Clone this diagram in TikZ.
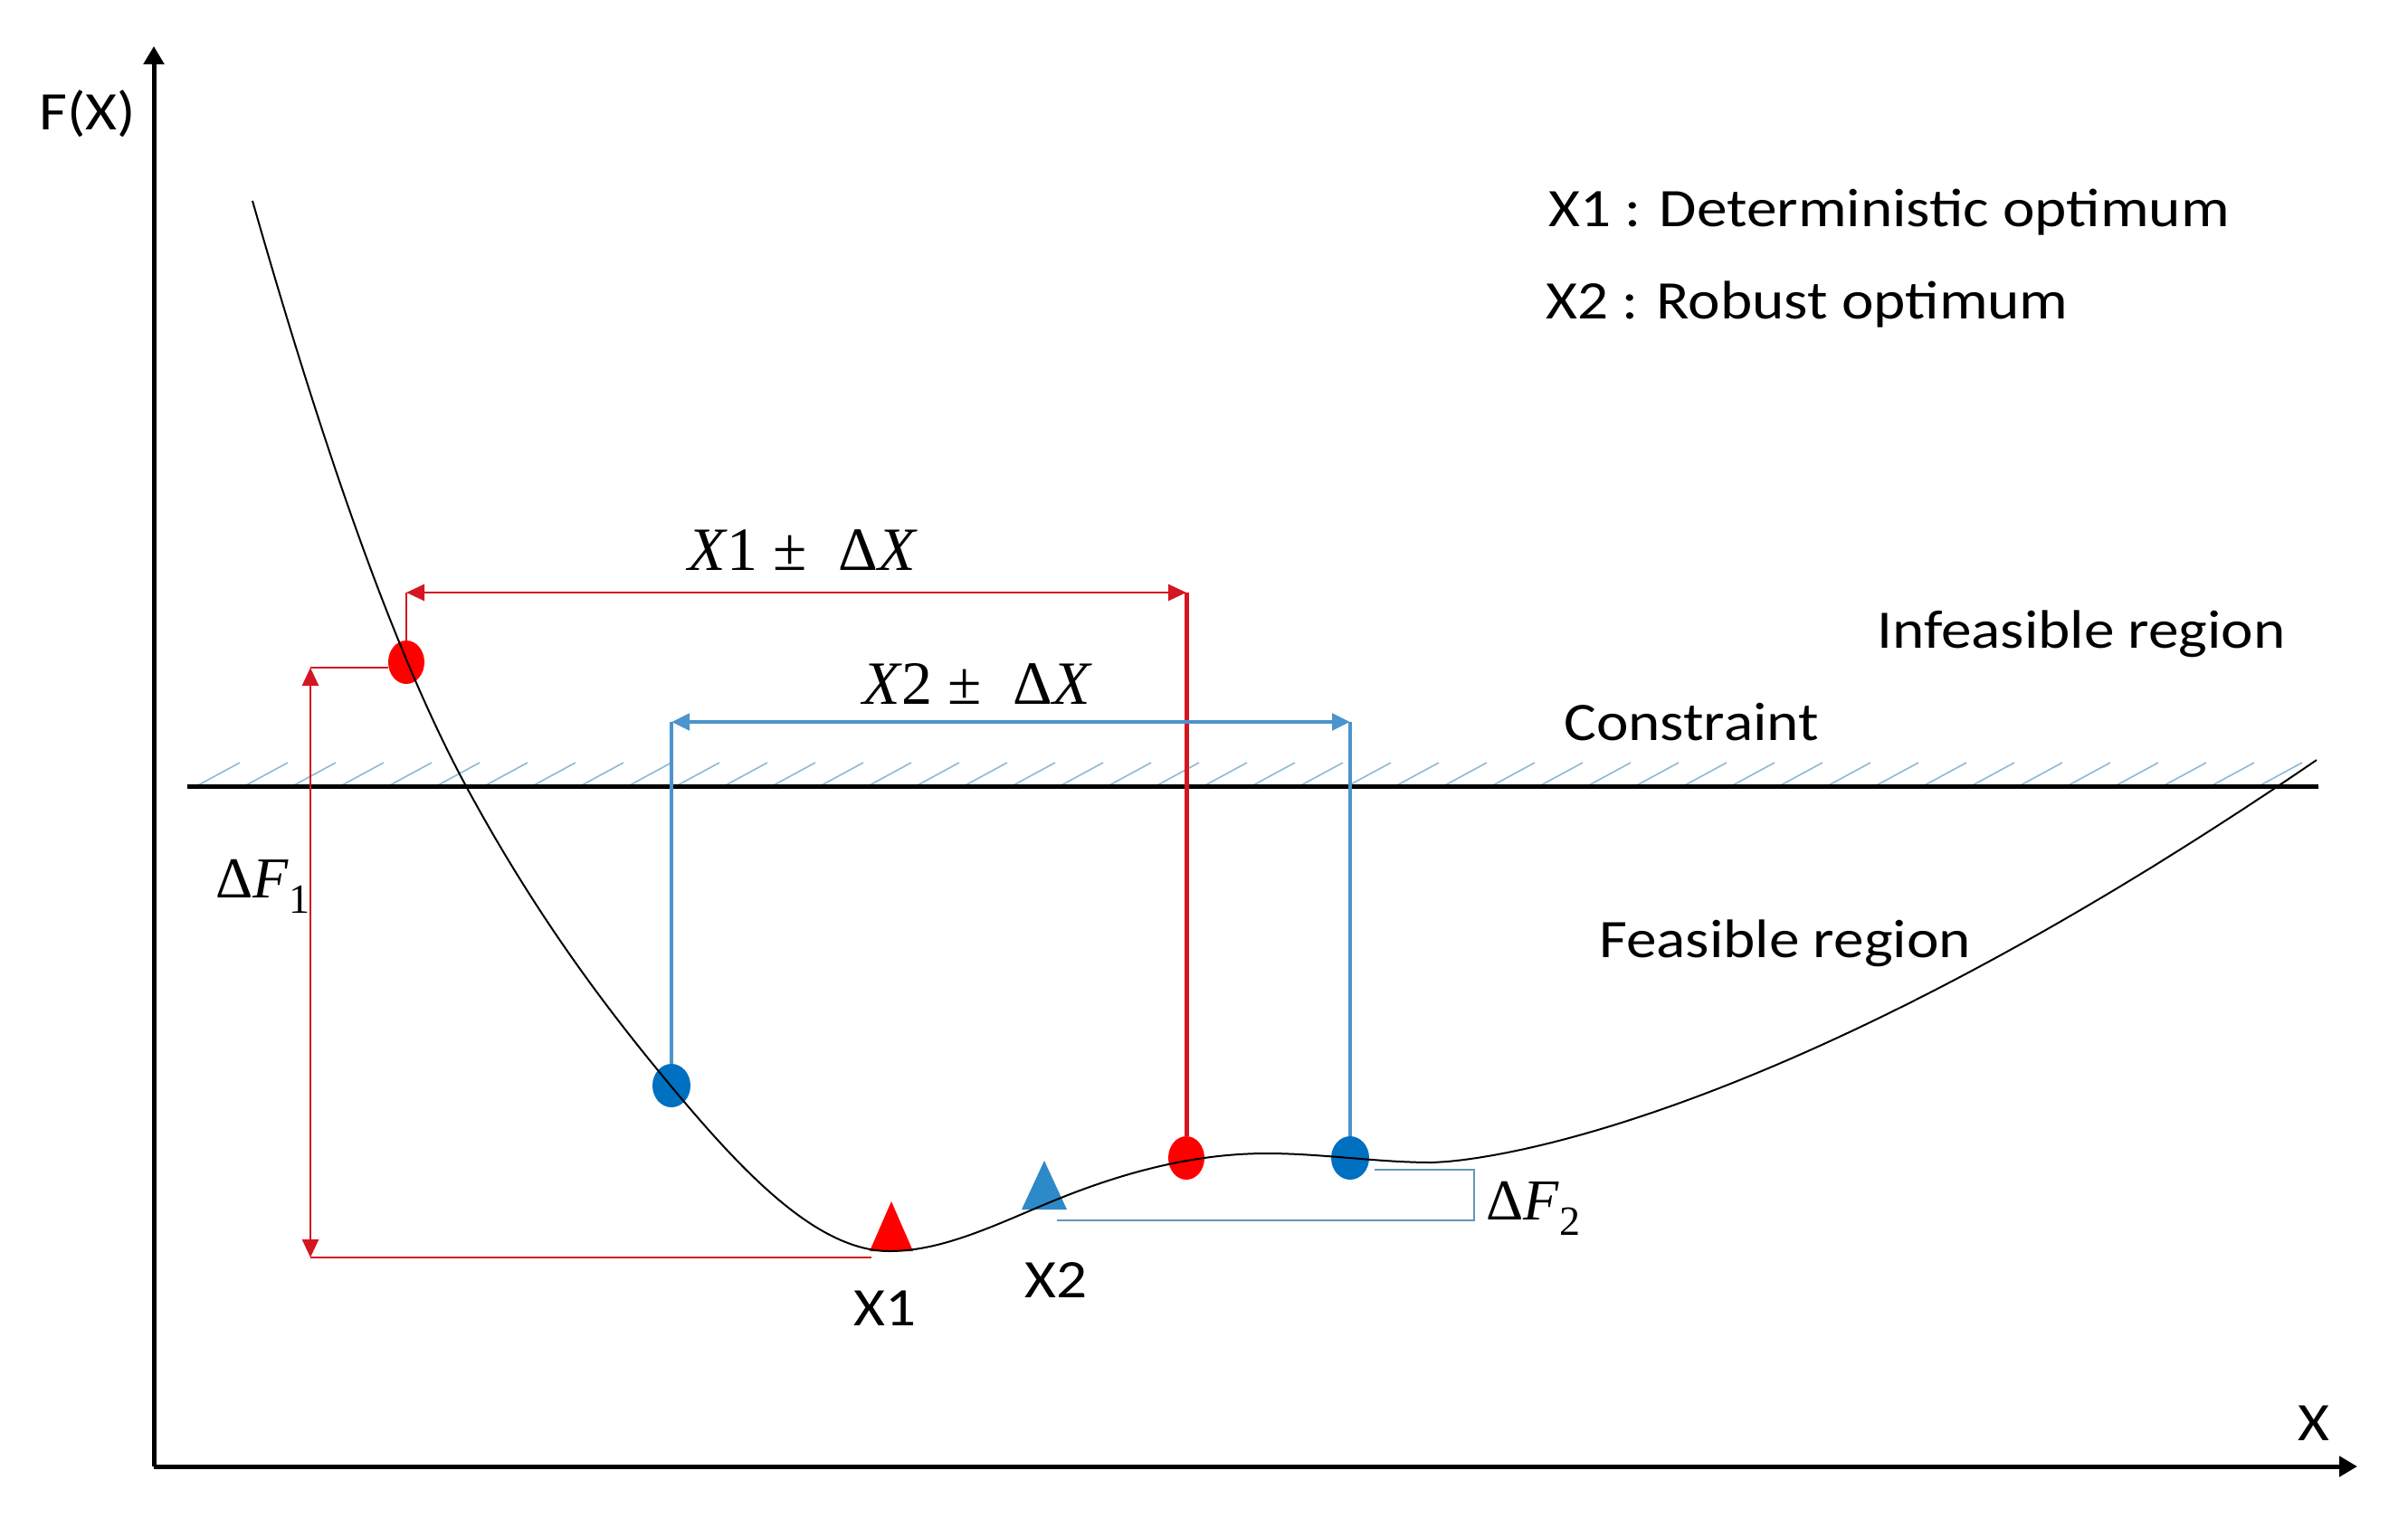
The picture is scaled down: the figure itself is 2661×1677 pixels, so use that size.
\documentclass[tikz,border=0pt]{standalone}
\usepackage[no-math]{fontspec}
\setmainfont{Carlito}
\newfontfamily\mf{Liberation Serif}
\usepackage{graphicx}
\usetikzlibrary{arrows.meta,shapes.geometric}
\definecolor{dotred}{RGB}{255,0,0}
\definecolor{linered}{RGB}{212,22,32}
\definecolor{dotblue}{RGB}{0,112,192}
\definecolor{triblue}{RGB}{46,137,200}
\definecolor{lineblue}{RGB}{75,148,205}
\definecolor{brblue}{RGB}{100,150,180}
\definecolor{hatchc}{RGB}{140,185,212}
\newcommand{\hs}[1]{\scalebox{1.12}[1]{#1}}
\newcommand{\sbx}[1]{\raisebox{-0.28em}{\fontsize{23}{27}\selectfont #1}}
\begin{document}
\begin{tikzpicture}[x=0.5pt,y=-0.5pt,
  axis/.style={line width=2.5pt,-{Triangle[width=11pt,length=10pt]}},
  curveline/.style={line width=1pt,black},
  hatchline/.style={line width=0.8pt,hatchc},
  conline/.style={line width=2.5pt,black},
  redthin/.style={line width=1.3pt,linered},
  redthick/.style={line width=2.5pt,linered},
  bluethick/.style={line width=2.4pt,lineblue},
  bracket/.style={line width=1pt,brblue},
  dimarrow/.style={{Triangle[width=9pt,length=10pt]}-{Triangle[width=9pt,length=10pt]}},
  reddot/.style={ellipse,fill=dotred,minimum width=20pt,minimum height=24pt,inner sep=0pt},
  bluedot/.style={ellipse,fill=dotblue,minimum width=21pt,minimum height=24pt,inner sep=0pt},
  lbl/.style={inner sep=0pt,font=\fontsize{30}{36}\selectfont},
  mlbl/.style={inner sep=0pt,font=\mf\fontsize{34}{40}\selectfont},
  dlbl/.style={inner sep=0pt,font=\mf\fontsize{32}{38}\selectfont}
]
\useasboundingbox (0,0) rectangle (2661,1677);

% hatching above the constraint
\foreach \x in {217,270,...,2545} \draw[hatchline] (\x,869) -- ++(48,-26);
% constraint line
\coordinate (c0) at (207,869);
\coordinate (c1) at (2562,869);
\draw[conline] (c0) -- (c1);

% markers
\node[reddot] (r1) at (449,732) {};
\node[bluedot] (b1) at (742,1200) {};
\node[reddot] (r2) at (1311,1280) {};
\node[bluedot] (b2) at (1492,1280) {};
\coordinate (t1) at (985,1328);
\coordinate (t2) at (1154,1283);
\fill[dotred] (t1) -- ++(-24,55) -- ++(48,0) -- cycle;
\fill[triblue] (t2) -- ++(-25,54) -- ++(50,0) -- cycle;

% X1 +- DX
\coordinate (a1) at (449,655);
\coordinate (a2) at (1311,655);
\draw[redthin] (r1.north) -- (a1);
\draw[redthick] (r2.north) -- (a2);
\draw[redthin,dimarrow] (a1) -- (a2);

% X2 +- DX
\coordinate (e1) at (742,798);
\coordinate (e2) at (1492,798);
\draw[bluethick] (b1.north) -- (e1);
\draw[bluethick] (b2.north) -- (e2);
\draw[bluethick,dimarrow] (e1) -- (e2);

% Delta F1
\coordinate (d1t) at (343,738);
\coordinate (d1b) at (343,1390);
\coordinate (d1e) at (963,1390);
\draw[redthin] (d1t) -- (d1t -| r1.west);
\draw[redthin] (d1b) -- (d1e);
\draw[redthin,dimarrow] (d1t) -- (d1b);

% Delta F2 bracket
\coordinate (f2a) at (1519,1293);
\coordinate (f2b) at (1629,1293);
\coordinate (f2c) at (1629,1349);
\coordinate (f2d) at (1168,1349);
\draw[bracket] (f2a) -- (f2b) -- (f2c) -- (f2d);

% curve
\draw[curveline] (279,222) .. controls (358,498.5) and (436,723) .. (515,869)
  .. controls (590,1007.75) and (666,1110) .. (741,1200)
  .. controls (821,1296) and (903,1383) .. (983,1383)
  .. controls (1045,1383) and (1108,1350) .. (1170,1325)
  .. controls (1247,1294) and (1323,1275) .. (1400,1275)
  .. controls (1461,1275) and (1522,1285) .. (1583,1285)
  -- plot[domain=0:977,samples=60,variable=\u] ({1583+\u},{1285-14.57*pow(\u/100,1.5)});

% axes
\coordinate (o) at (170,1621);
\coordinate (ytop) at (170,51);
\coordinate (xend) at (2605,1621);
\draw[axis] (o) -- (ytop);
\draw[axis] (o) -- (xend);

% labels
\node[lbl,anchor=base] (fx) at (97,143) {\hs{F(X)}};
\node[lbl,anchor=base] (xl) at (2557,1592) {\hs{X}};
\node[lbl,anchor=base west] (leg1) at (1711,250) {\hs{X1 : Deterministic optimum}};
\node[lbl,anchor=base west] (leg2) at (1708,352) {\hs{X2 : Robust optimum}};
\node[lbl,anchor=base west] (inf) at (2074,716) {\hs{Infeasible region}};
\node[lbl,anchor=base west] (con) at (1728,818) {\hs{Constraint}};
\node[lbl,anchor=base west] (fea) at (1767,1058) {\hs{Feasible region}};
\node[lbl,anchor=base] (x1l) at (978,1465) {\hs{X1}};
\node[lbl,anchor=base] (x2l) at (1167,1434) {\hs{X2}};
\node[mlbl,anchor=base] (pm1) at (887,630) {\textit{X}1 ± \ Δ\textit{X}};
\node[mlbl,anchor=base] (pm2) at (1080,778) {\textit{X}2 ± \ Δ\textit{X}};
\node[dlbl,anchor=base east] (df1) at (343,992) {Δ\textit{F}\sbx{1}};
\node[dlbl,anchor=base west] (df2) at (1642,1348) {Δ\textit{F}\sbx{2}};
\end{tikzpicture}
\end{document}
